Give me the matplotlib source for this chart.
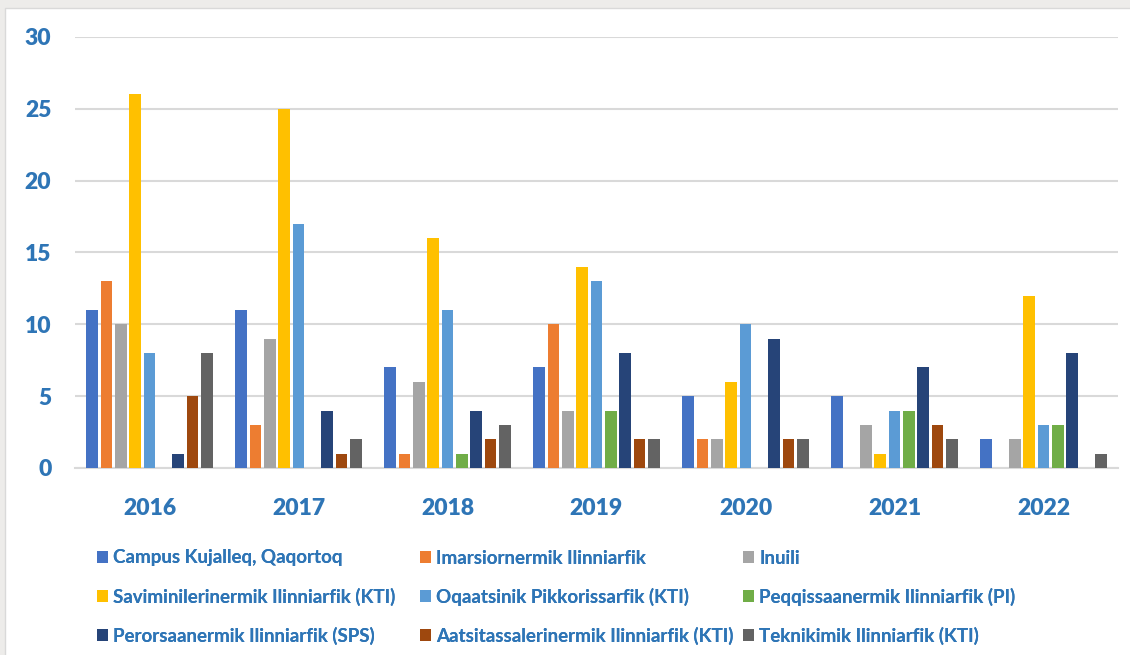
import numpy as np
import matplotlib
matplotlib.use("Agg")
import matplotlib.pyplot as plt
from matplotlib.patches import Rectangle, Patch

years = ["2016", "2017", "2018", "2019", "2020", "2021", "2022"]
series = [
    "Campus Kujalleq, Qaqortoq",
    "Imarsiornermik Ilinniarfik",
    "Inuili",
    "Saviminilerinermik Ilinniarfik (KTI)",
    "Oqaatsinik Pikkorissarfik (KTI)",
    "Peqqissaanermik Ilinniarfik (PI)",
    "Perorsaanermik Ilinniarfik (SPS)",
    "Aatsitassalerinermik Ilinniarfik (KTI)",
    "Teknikimik Ilinniarfik (KTI)",
]
campus = [11, 11, 7, 7, 5, 5, 2]
imarsiornermik = [13, 3, 1, 10, 2, 0, 0]
inuili = [10, 9, 6, 4, 2, 3, 2]
saviminilerinermik = [26, 25, 16, 14, 6, 1, 12]
oqaatsinik = [8, 17, 11, 13, 10, 4, 3]
peqqissaanermik = [0, 0, 1, 4, 0, 4, 3]
perorsaanermik = [1, 4, 4, 8, 9, 7, 8]
aatsitassalerinermik = [5, 1, 2, 2, 2, 3, 0]
teknikimik = [8, 2, 3, 2, 2, 2, 1]
values = [campus, imarsiornermik, inuili, saviminilerinermik, oqaatsinik,
          peqqissaanermik, perorsaanermik, aatsitassalerinermik, teknikimik]
colors = ["#4472C4", "#ED7D31", "#A5A5A5", "#FFC000", "#5B9BD5",
          "#70AD47", "#264478", "#9E480E", "#636363"]

BLUE = "#2E75B6"
plt.rcParams["font.family"] = ["Lato", "DejaVu Sans"]

fig = plt.figure(figsize=(11.3, 6.55), dpi=100, facecolor="#EDECEA")
fig.patches.append(Rectangle((5 / 1130, -0.01), 1.0, 1 - 8 / 655 + 0.01,
                             transform=fig.transFigure, facecolor="white",
                             edgecolor="#D9D9D9", linewidth=1, zorder=-5))

ax = fig.add_axes([75 / 1130, 187 / 655, 1043 / 1130, 431 / 655])
ax.set_facecolor("none")
ax.set_zorder(2)

x = np.arange(len(years))
pitch = 0.096
width = 0.078
for i, (vals, col) in enumerate(zip(values, colors)):
    offs = (i - 4) * pitch
    ax.bar(x + offs, vals, width=width, color=col, linewidth=0, zorder=3)

ax.set_xlim(-0.5, len(years) - 0.5)
ax.set_ylim(0, 30)
ax.set_yticks(range(0, 31, 5))
ax.set_xticks(x)
ax.set_xticklabels(years)
ax.grid(axis="y", color="#D9D9D9", linewidth=1.5, zorder=0)
for s in ["top", "right", "left"]:
    ax.spines[s].set_visible(False)
ax.spines["bottom"].set_color("#D9D9D9")
ax.spines["bottom"].set_linewidth(1.5)
ax.tick_params(axis="both", length=0, labelsize=16.5, labelcolor=BLUE)
ax.tick_params(axis="y", pad=17)
ax.tick_params(axis="x", pad=21.5)
for lab in ax.get_xticklabels() + ax.get_yticklabels():
    lab.set_fontweight("heavy")

# legend: three fixed-width columns, filled row by row like the original
col_x = [89, 412, 735]
for c in range(3):
    idx = [c, c + 3, c + 6]
    handles = [Patch(facecolor=colors[k], edgecolor="none") for k in idx]
    leg = fig.legend(handles, [series[k] for k in idx], loc="upper left",
                     bbox_to_anchor=(col_x[c] / 1130, 1 - 542 / 655),
                     frameon=False, prop={"weight": "bold", "size": 13.5},
                     handlelength=0.6, handleheight=0.6, handletextpad=0.3,
                     labelspacing=1.13, labelcolor=BLUE, borderaxespad=0)
    fig.add_artist(leg)

fig.savefig("out.png", dpi=100, facecolor=fig.get_facecolor())
